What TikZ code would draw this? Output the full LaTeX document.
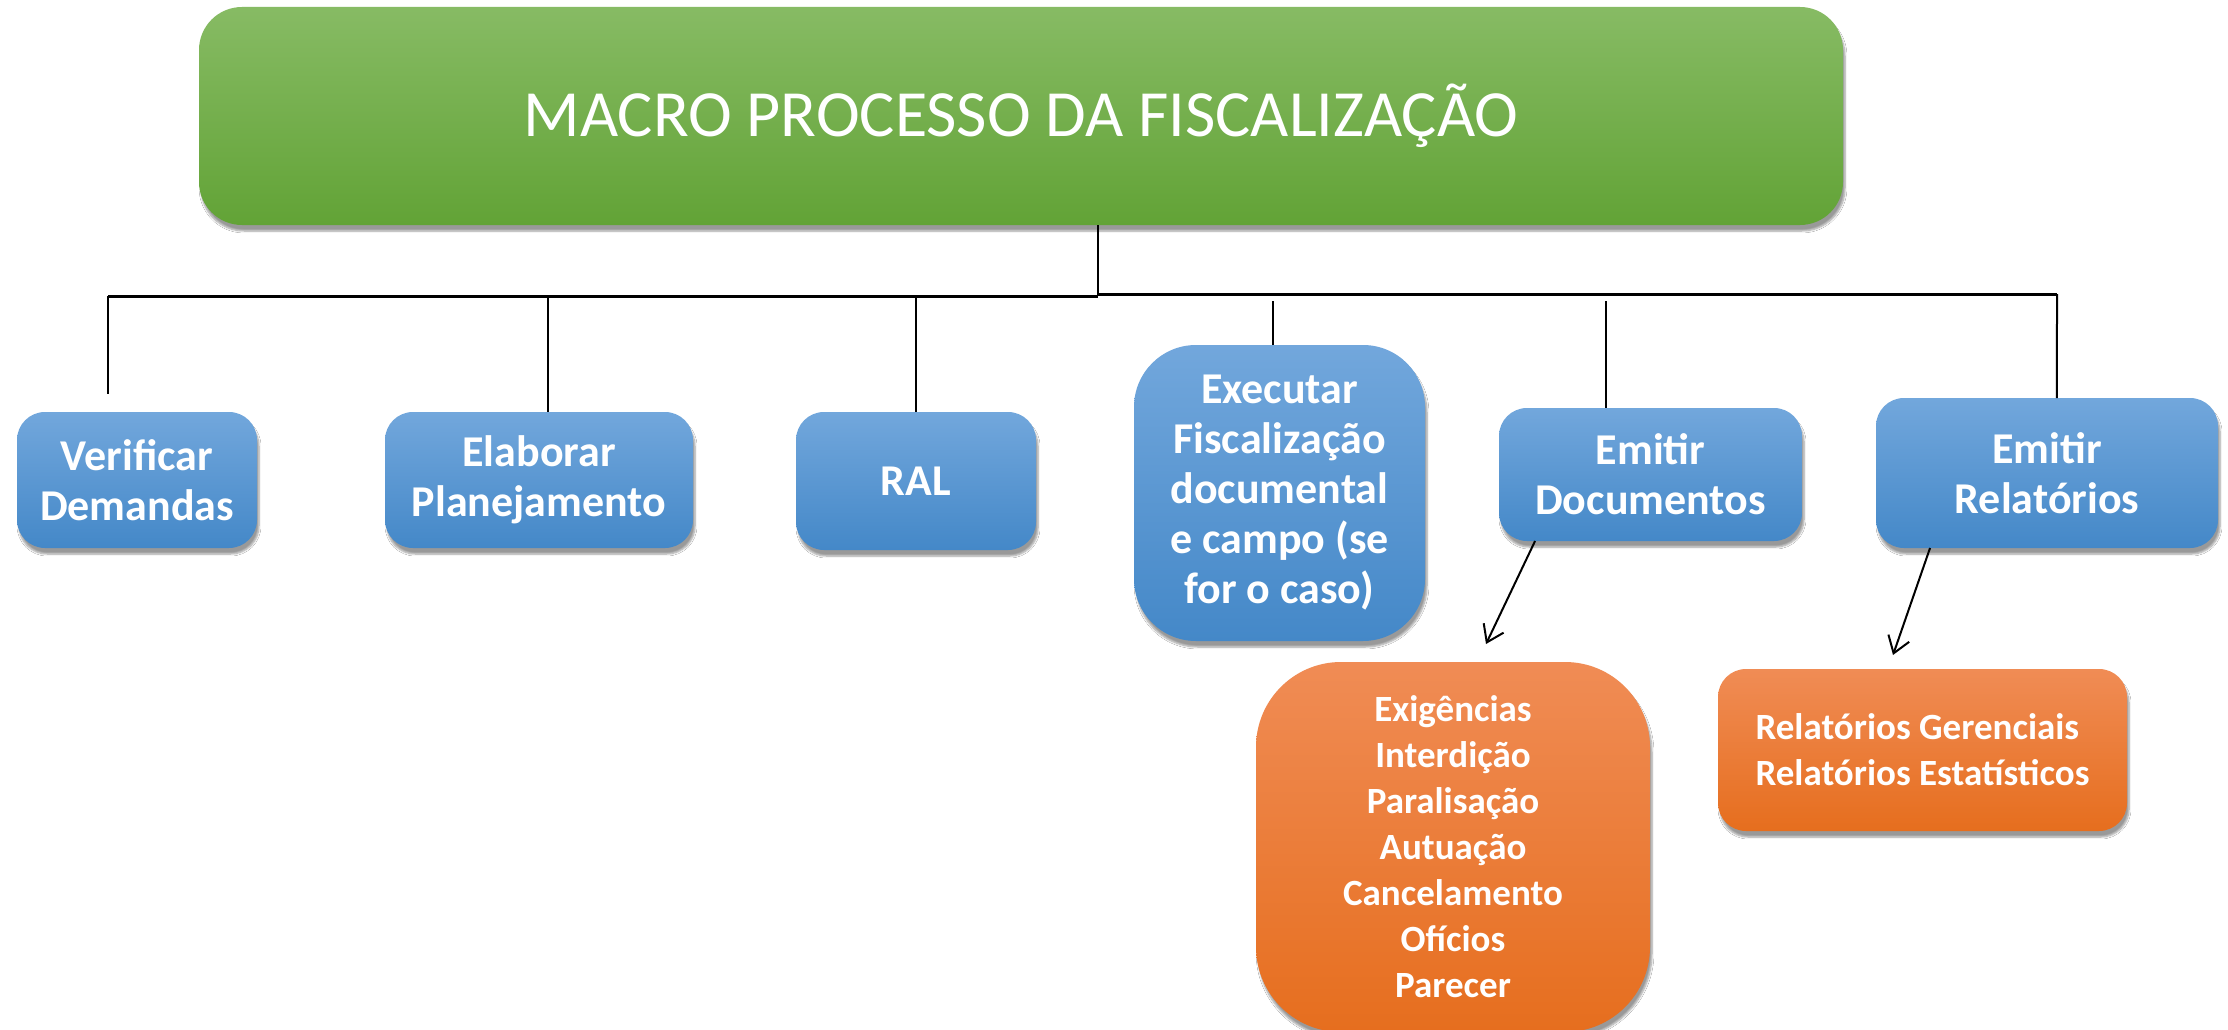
\documentclass[tikz,border=0pt]{standalone}
\usepackage{fontspec}
\setmainfont{Carlito}
\usetikzlibrary{shadows.blur,arrows.meta,calc}
\definecolor{greentop}{HTML}{87BB64}
\definecolor{greenbot}{HTML}{62A336}
\definecolor{bluetop}{HTML}{72A7DC}
\definecolor{bluebot}{HTML}{4488C8}
\definecolor{orangetop}{HTML}{F08C55}
\definecolor{orangemid}{HTML}{F47F30}
\definecolor{orangebot}{HTML}{E66E1E}
\tikzset{
  box/.style={rectangle, anchor=north west, inner sep=0pt, outer sep=0pt, align=center, text=white,
    blur shadow={shadow xshift=2pt, shadow yshift=-6pt, shadow opacity=40, shadow blur steps=6}},
  greenbox/.style={box, rounded corners=43pt, top color=greentop, bottom color=greenbot,
    font=\fontsize{66}{80}\selectfont},
  bluebox/.style={box, rounded corners=28pt, top color=bluetop, bottom color=bluebot,
    font=\fontsize{44}{50}\selectfont\bfseries},
  orangebox/.style={box, rounded corners=28pt, top color=orangetop, middle color=orangemid, bottom color=orangebot,
    font=\fontsize{37}{46}\selectfont\bfseries},
  busline/.style={line width=3pt, black},
  dropline/.style={line width=2pt, black},
  arrline/.style={line width=2pt, black, -{Straight Barb[length=16pt,width=22pt,line width=2pt]}}
}
\begin{document}
\begin{tikzpicture}[x=1pt,y=-1pt]
\fill[white] (0,0) rectangle (2228,1030);
\useasboundingbox (0,0) rectangle (2228,1030);

\node[greenbox, minimum width=1644pt, minimum height=218pt] (title) at (199,7) {MACRO PROCESSO DA FISCALIZAÇÃO};

\node[bluebox, minimum width=240pt, minimum height=136pt] (vd) at (17,412) {Verificar\\Demandas};
\node[bluebox, minimum width=308pt, minimum height=136pt] (ep) at (385,412) {Elaborar\\Planejamento};
\node[bluebox, minimum width=240pt, minimum height=138pt] (ral) at (796,412) {RAL};
\node[bluebox, rounded corners=62pt, minimum width=291pt, minimum height=296pt] (ex) at (1134,345) {Executar\\Fiscalização\\documental\\e campo (se\\for o caso)};
\node[bluebox, minimum width=303pt, minimum height=133pt] (ed) at (1499,408) {Emitir\\Documentos};
\node[bluebox, minimum width=342pt, minimum height=150pt] (er) at (1876,398) {Emitir\\Relatórios};

\node[orangebox, rounded corners=85pt, minimum width=394pt, minimum height=370pt] (oex) at (1256,662) {Exigências\\Interdição\\Paralisação\\Autuação\\Cancelamento\\Ofícios\\Parecer};
\node[orangebox, align=left, minimum width=409pt, minimum height=162pt] (orl) at (1718,669) {Relatórios Gerenciais\\Relatórios Estatísticos};

% connectors
\coordinate (tb) at (1098,296);
\coordinate (bl) at (108,296);
\coordinate (br) at (2057,294);
\coordinate (vdc) at (108,394);
\coordinate (gap) at (0,301);
\draw[dropline] (title.south -| tb) -- (tb);
\draw[busline] (bl) -- (tb);
\draw[busline] (tb |- br) -- (br);
\draw[dropline] (bl) -- (vdc);
\path ($(ep.north west)!0.529!(ep.north east)$) coordinate (ept);
\draw[dropline] (ept |- bl) -- (ept);
\draw[dropline] (ral.north |- bl) -- (ral.north);
\path ($(ex.north west)!0.478!(ex.north east)$) coordinate (ext);
\draw[dropline] (ext |- gap) -- (ext);
\path ($(ed.north west)!0.353!(ed.north east)$) coordinate (edt);
\draw[dropline] (edt |- gap) -- (edt);
\path ($(er.north west)!0.529!(er.north east)$) coordinate (ert);
\draw[dropline] (br) -- (ert);

\coordinate (a1) at (1486,644);
\coordinate (a2) at (1893,655);
\draw[arrline] ($(ed.south west)!0.119!(ed.south east)$) -- (a1);
\draw[arrline] ($(er.south west)!0.158!(er.south east)$) -- (a2);
\end{tikzpicture}
\end{document}
